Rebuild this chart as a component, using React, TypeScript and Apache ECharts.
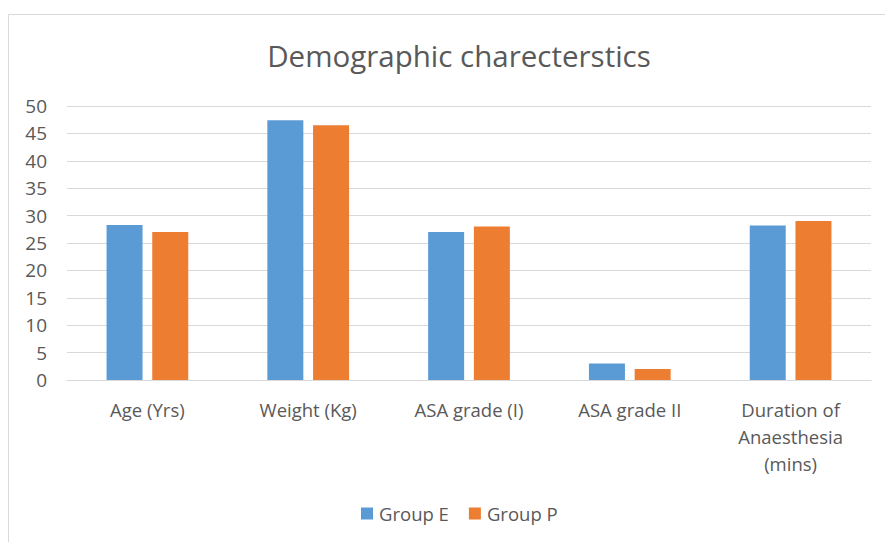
import React, { useEffect, useRef } from "react";
import * as echarts from "echarts";

const categories = ["Age (Yrs)", "Weight (Kg)", "ASA grade (I)", "ASA grade II", "Duration of\nAnaesthesia\n(mins)"];
const groupE = [28.3, 47.4, 27, 3, 28.2];
const groupP = [27, 46.5, 28, 2, 29];
const yTicks = [0, 5, 10, 15, 20, 25, 30, 35, 40, 45, 50];

export default function App() {
  const ref = useRef<HTMLDivElement>(null);
  useEffect(() => {
    if (!ref.current) return;
    const chart = echarts.init(ref.current, null, { renderer: "svg" });
    const font = "'Open Sans', 'Noto Sans', sans-serif";
    chart.setOption({
      animation: false,
      backgroundColor: "#ffffff",
      textStyle: { fontFamily: font },
      title: {
        text: "Demographic charecterstics",
        left: 454,
        textAlign: "center",
        top: 35,
        textStyle: { fontSize: 29.5, fontWeight: "normal", color: "#595959", fontFamily: font },
      },
      graphic: [
        { type: "line", shape: { x1: 8.5, y1: 14.5, x2: 885, y2: 14.5 }, style: { stroke: "#d9d9d9", lineWidth: 1 } },
        { type: "line", shape: { x1: 8.5, y1: 14.5, x2: 8.5, y2: 542 }, style: { stroke: "#d9d9d9", lineWidth: 1 } },
      ],
      legend: {
        data: ["Group E", "Group P"],
        left: 356,
        top: 499,
        icon: "rect",
        itemWidth: 12,
        itemHeight: 12,
        itemGap: 20,
        textStyle: { fontSize: 18.5, color: "#595959", fontFamily: font, padding: [0, 0, 0, 1] },
      },
      grid: { left: 67, right: 14, top: 106, height: 274, containLabel: false },
      xAxis: {
        type: "category",
        data: categories,
        axisLine: { show: true, lineStyle: { color: "#d9d9d9", width: 1 } },
        axisTick: { show: false },
        axisLabel: { color: "#595959", fontSize: 18.5, lineHeight: 27, margin: 16, interval: 0, fontFamily: font },
      },
      yAxis: {
        type: "value",
        min: 0,
        max: 50,
        interval: 5,
        axisLine: { show: false },
        axisTick: { show: false },
        splitLine: { lineStyle: { color: "#d9d9d9", width: 1 } },
        axisLabel: { color: "#595959", fontSize: 19, margin: 20, fontFamily: font },
      },
      series: [
        {
          name: "Group E",
          type: "bar",
          data: groupE,
          barWidth: 36,
          barGap: "27%",
          itemStyle: { color: "#5b9bd5" },
        },
        {
          name: "Group P",
          type: "bar",
          data: groupP,
          barWidth: 36,
          itemStyle: { color: "#ed7d31" },
        },
      ],
    });
    return () => chart.dispose();
  }, []);
  return <div ref={ref} style={{ position: "absolute", left: 0, top: 0, width: 885, height: 542 }} />;
}
